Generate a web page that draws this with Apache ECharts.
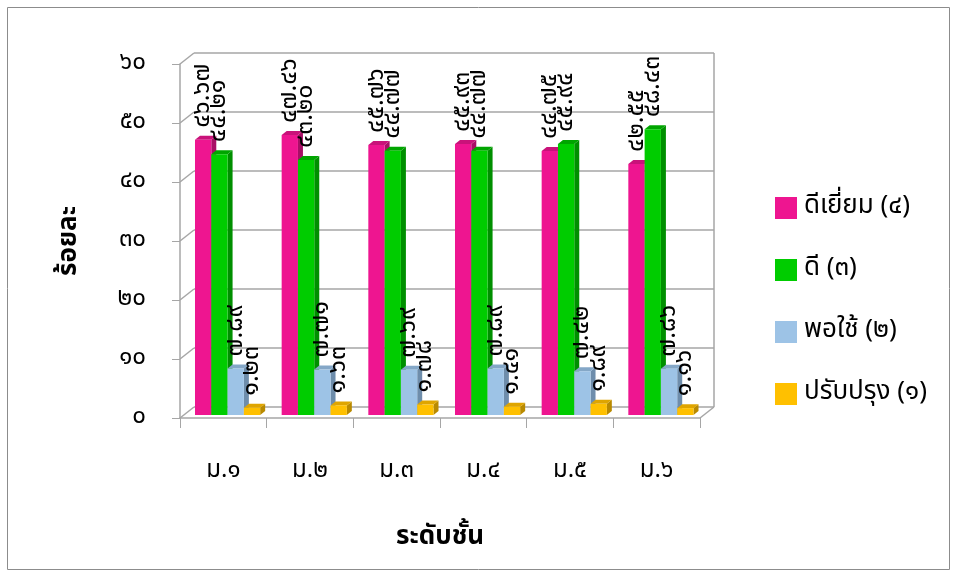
<!DOCTYPE html>
<html><head><meta charset="utf-8">
<script src="https://cdn.jsdelivr.net/npm/echarts@6/dist/echarts.min.js"></script>
<style>html,body{margin:0;padding:0;background:#fff}#c{width:957px;height:577px}</style>
</head><body><div id="c"></div>
<script>
const categories = ['ม.๑','ม.๒','ม.๓','ม.๔','ม.๕','ม.๖'];
const seriesNames = ['ดีเยี่ยม (๔)','ดี (๓)','พอใช้ (๒)','ปรับปรุง (๑)'];
const excellent = [46.67, 47.46, 45.76, 45.93, 44.75, 42.55];
const good      = [44.21, 43.20, 44.77, 44.77, 45.94, 48.43];
const fair      = [7.89, 7.71, 7.69, 7.89, 7.42, 7.86];
const improve   = [1.23, 1.63, 1.78, 1.41, 1.89, 1.16];
const yTickValues = [0, 10, 20, 30, 40, 50, 60];
const yTickLabels = ['๐','๑๐','๒๐','๓๐','๔๐','๕๐','๖๐'];
const xTitle = 'ระดับชั้น';
const yTitle = 'ร้อยละ';

const FONT = "'Noto Sans Thai','Leelawadee UI',Tahoma,'Noto Sans','DejaVu Sans',sans-serif";
const thaiDigits = '๐๑๒๓๔๕๖๗๘๙';
const toThai = s => String(s).replace(/[0-9]/g, d => thaiDigits[+d]);

const colors = [
  {front:'#EE1590', side:'#A80E66', top:'#C9127A'},
  {front:'#00CC00', side:'#008F00', top:'#00A500'},
  {front:'#9DC3E6', side:'#6E8DAB', top:'#84A7C7'},
  {front:'#FFC000', side:'#B98A00', top:'#DFA500'}
];
const allData = [excellent, good, fair, improve];
const DX = 14, DY = -11;      // wall depth
const BDX = 5, BDY = -4;      // bar depth

function barRender(s) {
  return function (params, api) {
    const i = api.value(0), v = api.value(1);
    const band = api.size([1, 0])[0];
    const base = api.coord([i, 0]);
    const topP = api.coord([i, v]);
    const w = band * 0.188;
    const x = base[0] - band / 2 + band * 0.173 + s * w;
    const yB = base[1] - 3, yT = topP[1] - 3;
    const c = colors[s];
    return {
      type: 'group',
      children: [
        {type:'polygon', shape:{points:[[x+w,yT],[x+w+BDX,yT+BDY],[x+w+BDX,yB+BDY],[x+w,yB]]}, style:{fill:c.side}},
        {type:'polygon', shape:{points:[[x,yT],[x+BDX,yT+BDY],[x+w+BDX,yT+BDY],[x+w,yT]]}, style:{fill:c.top}},
        {type:'rect', shape:{x:x, y:yT, width:w, height:yB-yT}, style:{fill:c.front}},
        {type:'text', x: x + w/2 + 1, y: yT + BDY - 8, rotation: Math.PI/2,
         style:{text: toThai(v.toFixed(2)), align:'left', verticalAlign:'middle',
                fill:'#000', font: '25px ' + FONT}}
      ]
    };
  };
}

function wallRender(params, api) {
  const v = api.value(0);
  const cs = params.coordSys;
  const p = api.coord([0, v]);
  const x0 = cs.x, x1 = cs.x + cs.width, y = p[1];
  const st = {stroke:'#A6A6A6', lineWidth:1.5};
  const ch = [
    {type:'line', shape:{x1:x0, y1:y, x2:x0+DX, y2:y+DY}, style:st},
    {type:'line', shape:{x1:x0+DX, y1:y+DY, x2:x1+DX, y2:y+DY}, style:st}
  ];
  if (v === yTickValues[0]) {
    ch.push({type:'line', shape:{x1:x1, y1:y, x2:x1+DX, y2:y+DY}, style:st});
    const yTop = api.coord([0, yTickValues[yTickValues.length-1]])[1];
    ch.push({type:'line', shape:{x1:x1+DX, y1:y+DY, x2:x1+DX, y2:yTop+DY}, style:st});
  }
  return {type:'group', children: ch};
}

const series = [{
  type:'custom', name:'walls', renderItem: wallRender, z: 1, silent: true,
  data: yTickValues.map(v => [v]), encode:{y:0}
}];
seriesNames.forEach((n, s) => {
  series.push({
    type:'custom', name:n, renderItem: barRender(s), z: 2 + s, clip:false,
    itemStyle:{color: colors[s].front},
    data: allData[s].map((v, i) => [i, v]), encode:{x:0, y:1}
  });
});

const chart = echarts.init(document.getElementById('c'), null, {renderer:'canvas'});
chart.setOption({
  animation:false,
  textStyle:{fontFamily: FONT},
  graphic:[{type:'rect', shape:{x:7.5, y:7.5, width:942, height:562}, style:{fill:'none', stroke:'#8C8C8C', lineWidth:1}, silent:true}],
  grid:{left:180, right:257, top:64, bottom:159},
  legend:{
    orient:'vertical', left:770, top:190, itemWidth:22, itemHeight:22, itemGap:36,
    icon:'rect', data: seriesNames,
    textStyle:{fontSize:26, fontFamily:FONT, color:'#000', lineHeight:26, padding:[0,0,0,2]}
  },
  xAxis:{
    type:'category', data: categories,
    name: xTitle, nameLocation:'middle', nameGap:108,
    nameTextStyle:{fontSize:26, fontWeight:'bold', color:'#000', fontFamily:FONT},
    axisLine:{lineStyle:{color:'#A6A6A6', width:1.5}},
    axisTick:{show:true, length:10, lineStyle:{color:'#A6A6A6'}},
    axisLabel:{fontSize:24, color:'#000', margin:42, fontFamily:FONT}
  },
  yAxis:{
    type:'value', min:0, max:60, interval:10,
    name: yTitle, nameLocation:'middle', nameGap:96, nameRotate:90,
    nameTextStyle:{fontSize:26, fontWeight:'bold', color:'#000', fontFamily:FONT},
    axisLine:{show:true, lineStyle:{color:'#A6A6A6', width:1.5}},
    axisTick:{show:true, length:8, lineStyle:{color:'#A6A6A6'}},
    splitLine:{show:false},
    axisLabel:{fontSize:24, color:'#000', margin:34, fontFamily:FONT,
      formatter: v => yTickLabels[yTickValues.indexOf(v)]}
  },
  series: series
});
</script></body></html>
